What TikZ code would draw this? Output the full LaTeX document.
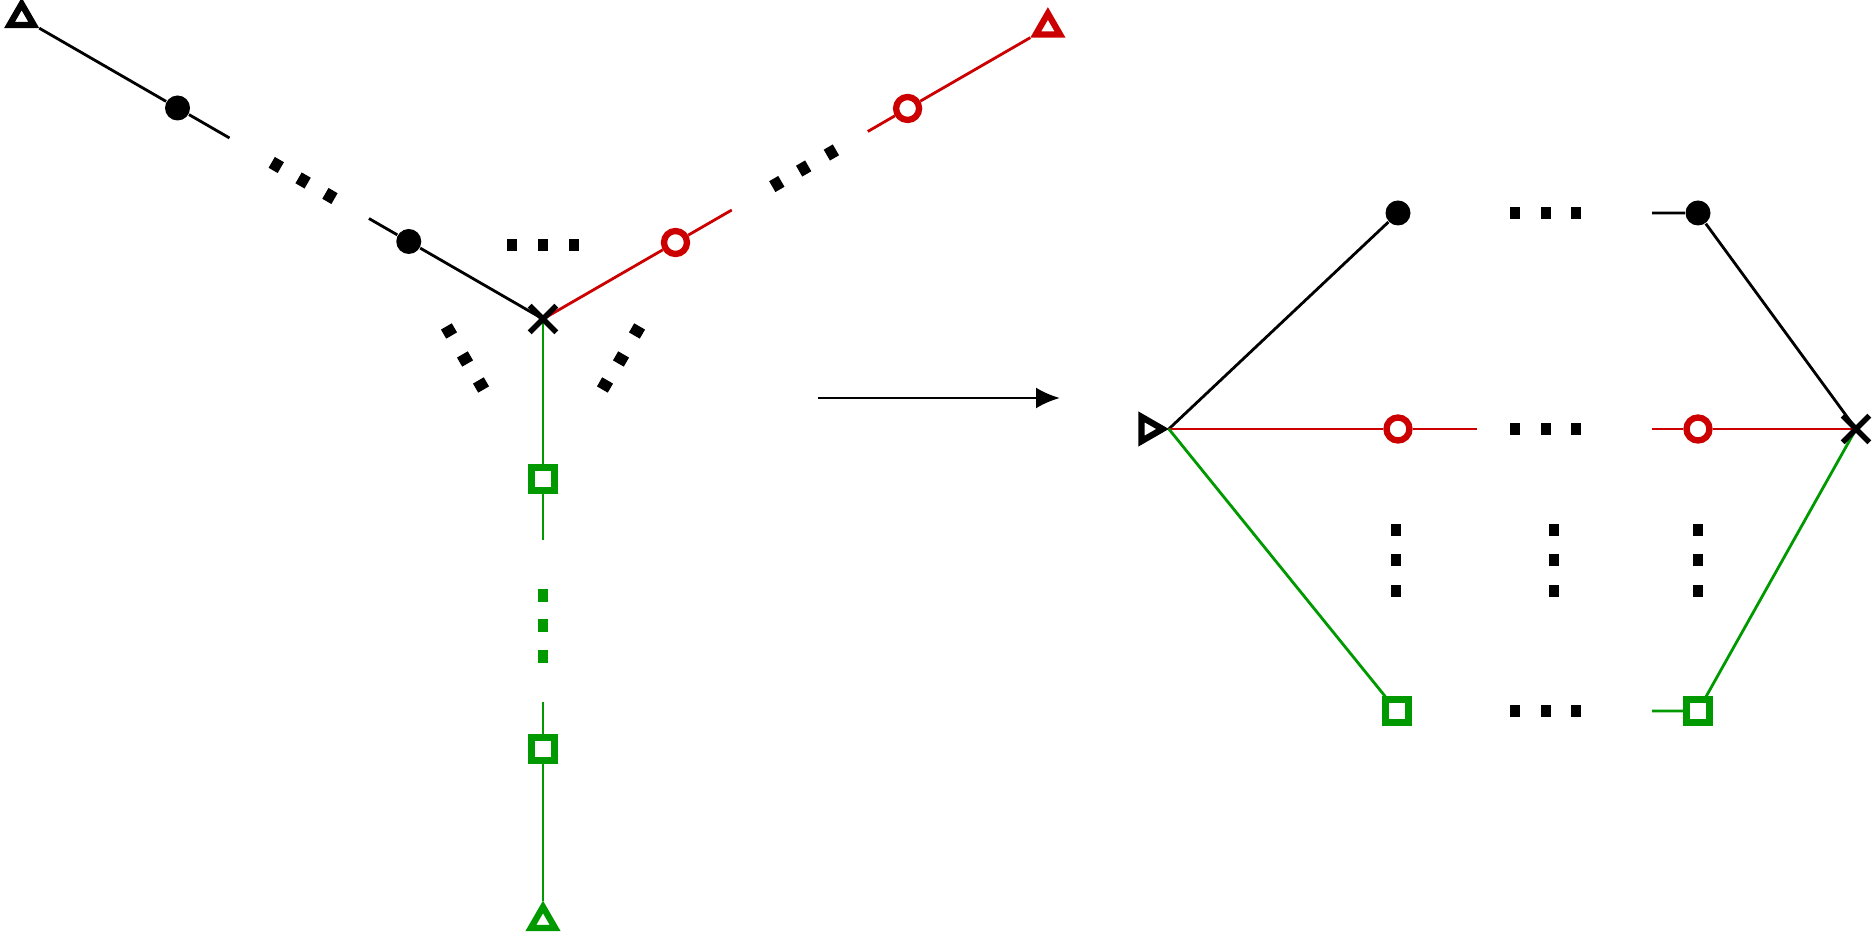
\documentclass[tikz,border=0pt]{standalone}
\usepackage{amsmath,amssymb}
\usepackage{xcolor}
\usepackage{tikz}
\usetikzlibrary{arrows.meta,shapes.geometric,shapes.misc,backgrounds}

\definecolor{armred}{RGB}{204,0,0}
\definecolor{armgreen}{RGB}{0,153,0}

\begin{document}
\begin{tikzpicture}[>=Latex,
  wire/.style={line width=0.8pt},
  fulldot/.style={circle, fill=black, inner sep=0pt, minimum size=2.5mm},
  ring/.style={circle, draw=armred, fill=white, line width=1.8pt, inner sep=0pt, minimum size=2.3mm},
  box/.style={rectangle, draw=armgreen, fill=white, line width=1.9pt, inner sep=0pt, minimum size=2.25mm},
  leaf/.style={regular polygon, regular polygon sides=3, draw=#1, fill=white, line width=1.8pt, inner sep=0pt, minimum size=2.8mm},
  leaf/.default=black,
  cross/.style={cross out, draw, line width=1.6pt, inner sep=0pt, minimum size=2.1mm},
  pip/.style={rectangle, fill=#1, inner sep=0pt, minimum width=1.05mm, minimum height=1.25mm},
  pip/.default=black]
  \useasboundingbox (0,0) rectangle (18.75,9.38);

  % star
  \begin{scope}[shift={(5.43,6.19)}]
    \node[cross] (hub) at (0,0) {};
    \node[fulldot] (b1) at (150:1.55) {};
    \node[fulldot] (b2) at (150:4.22) {};
    \node[leaf] (bt) at (150:6.02) {};
    \coordinate (b1e) at (150:2.01);
    \coordinate (b2s) at (150:3.62);
    \node[ring] (r1) at (30:1.53) {};
    \node[ring] (r2) at (30:4.21) {};
    \node[leaf=armred] (rt) at (30:5.83) {};
    \coordinate (r1e) at (30:2.18);
    \coordinate (r2s) at (30:3.75);
    \node[box] (g1) at (270:1.60) {};
    \node[box] (g2) at (270:4.30) {};
    \node[leaf=armgreen] (gt) at (270:6.02) {};
    \coordinate (g1e) at (270:2.21);
    \coordinate (g2s) at (270:3.83);
    \foreach \r [count=\k] in {2.46,2.77,3.08}
      \node[pip, rotate=-30] (bp\k) at (150:\r) {};
    \foreach \r [count=\k] in {2.70,3.01,3.33}
      \node[pip, rotate=30] (rp\k) at (30:\r) {};
    \foreach \r [count=\k] in {2.765,3.065,3.375}
      \node[pip=armgreen] (gp\k) at (270:\r) {};
    \foreach \x/\y [count=\k] in {-0.31/0.74,0/0.74,0.31/0.74}
      \node[pip] (tp\k) at (\x,\y) {};
    \foreach \x/\y [count=\k] in {-0.94/-0.12,-0.78/-0.40,-0.62/-0.66}
      \node[pip, rotate=-60] (lp\k) at (\x,\y) {};
    \foreach \x/\y [count=\k] in {0.94/-0.12,0.78/-0.40,0.62/-0.66}
      \node[pip, rotate=60] (qp\k) at (\x,\y) {};
  \end{scope}

  \coordinate (from) at (8.18,5.40);
  \coordinate (to) at (10.60,5.40);
  \draw[wire, -{Latex[length=2.4mm, width=2.1mm]}] (from) -- (to);

  % graph
  \node[leaf, shape border rotate=-90] (src) at (11.485,5.09) {};
  \node[cross] (snk) at (18.56,5.09) {};
  \node[fulldot] (t1) at (13.98,7.25) {};
  \node[fulldot] (t2) at (16.98,7.25) {};
  \node[ring] (m1) at (13.98,5.09) {};
  \node[ring] (m2) at (16.98,5.09) {};
  \node[box] (u1) at (13.97,2.27) {};
  \node[box] (u2) at (16.98,2.27) {};
  \coordinate (t2s) at (16.52,7.25);
  \coordinate (m1e) at (14.77,5.09);
  \coordinate (m2s) at (16.52,5.09);
  \coordinate (u2s) at (16.52,2.27);
  \foreach \y/\n in {7.25/t,5.09/m,2.27/u}
    \foreach \x [count=\k] in {15.15,15.46,15.76}
      \node[pip] (dots\n\k) at (\x,\y) {};
  \foreach \x/\n in {13.96/a,15.54/b,16.98/c}
    \foreach \y [count=\k] in {4.08,3.78,3.47}
      \node[pip] (col\n\k) at (\x,\y) {};

  \begin{scope}[on background layer]
    \draw[wire] (hub.center) -- (b1) -- (b1e);
    \draw[wire] (b2s) -- (b2) -- (bt);
    \draw[wire, armred] (hub.center) -- (r1) -- (r1e);
    \draw[wire, armred] (r2s) -- (r2) -- (rt);
    \draw[wire, armgreen] (hub.center) -- (g1) -- (g1e);
    \draw[wire, armgreen] (g2s) -- (g2) -- (gt);
    \draw[wire] (src.corner 1) -- (t1);
    \draw[wire] (t2s) -- (t2) -- (snk.center);
    \draw[wire, armred] (src.corner 1) -- (m1) -- (m1e);
    \draw[wire, armred] (m2s) -- (m2) -- (snk.center);
    \draw[wire, armgreen] (src.corner 1) -- (u1);
    \draw[wire, armgreen] (u2s) -- (u2) -- (snk.center);
  \end{scope}
\end{tikzpicture}
\end{document}
